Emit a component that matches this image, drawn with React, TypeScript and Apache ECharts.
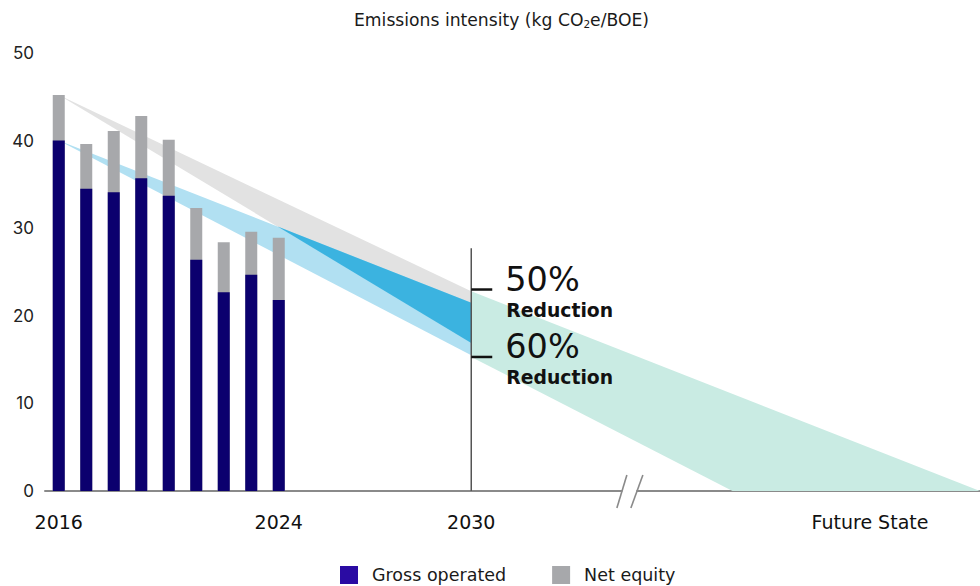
import React, { useEffect, useRef } from "react";
import * as echarts from "echarts";

// Reported years and their emissions intensity (kg CO2e/BOE)
const YEARS = ["2016", "2017", "2018", "2019", "2020", "2021", "2022", "2023", "2024"];
const GROSS_OPERATED = [40.0, 34.5, 34.1, 35.7, 33.7, 26.4, 22.7, 24.7, 21.8];
const NET_EQUITY = [45.2, 39.6, 41.1, 42.8, 40.1, 32.3, 28.4, 29.6, 28.9];

// Slots on the broken time axis: one slot per reported year, then 2030 and the future state
const YEAR_SLOTS = YEARS.map((_, i) => i);
const TARGET_SLOT = 15;
const FUTURE_SLOT = 29.5;
const AXIS_MIN = -0.5;
const AXIS_MAX = 33.5;
const BREAK_SLOT = 20.75;
const TICK_SLOTS = [0, 8, TARGET_SLOT, FUTURE_SLOT];
const TICK_LABELS = ["2016", "2024", "2030", "Future State"];

// 2030 pathway ranges (start value, upper and lower end at 2030)
const NET_PATH = [45.2, 22.8, 16.9];
const GROSS_PATH = [40.0, 21.5, 15.5];

// 2030 reduction targets
const TARGET_NAMES = ["50%", "60%"];
const TARGET_VALUES = [23.0, 15.3];
const TARGET_LINE_TOP = 27.7;

// Trajectory beyond 2030: slots where the upper and lower edges reach zero
const FUTURE_ZERO_UPPER = 33.5;
const FUTURE_ZERO_LOWER = 24.5;

const FONT = "'DejaVu Sans', 'Noto Sans', sans-serif";
const NUM_FONT = "Inter, 'Noto Sans', sans-serif";

function polygonSeries(name: string, points: number[][], color: string, z: number) {
  const flat = points.flat();
  const xs = flat.map((_, i) => i).filter((i) => i % 2 === 0);
  const ys = flat.map((_, i) => i).filter((i) => i % 2 === 1);
  return {
    type: "custom",
    name,
    z,
    silent: true,
    data: [flat],
    encode: { x: xs, y: ys },
    renderItem: (_p: any, api: any) => {
      const pts: number[][] = [];
      for (let i = 0; i < points.length; i++) {
        pts.push(api.coord([api.value(2 * i), api.value(2 * i + 1)]));
      }
      return { type: "polygon", shape: { points: pts }, style: { fill: color } };
    },
  };
}

// Where the lower edge of the net pathway crosses the upper edge of the gross pathway
function crossing(): number[] {
  const a0 = NET_PATH[0], a1 = NET_PATH[2];
  const b0 = GROSS_PATH[0], b1 = GROSS_PATH[1];
  const t = (a0 - b0) / (a0 - a1 - (b0 - b1));
  return [t * TARGET_SLOT, a0 + (a1 - a0) * t];
}

export default function App() {
  const ref = useRef<HTMLDivElement>(null);

  useEffect(() => {
    if (!ref.current) return;
    const chart = echarts.init(ref.current, null, { renderer: "svg" });
    const cross = crossing();

    const option: any = {
      animation: false,
      backgroundColor: "#ffffff",
      title: {
        text: "{a|Emissions intensity (kg CO}{s|2}{a|e/BOE)}",
        left: 354,
        top: 10,
        padding: 0,
        textStyle: {
          fontWeight: "normal",
          rich: {
            a: { fontFamily: FONT, fontSize: 17.2, fontWeight: "normal", color: "#1a1a1a", lineHeight: 20 },
            s: { fontFamily: FONT, fontSize: 10.5, fontWeight: "normal", color: "#1a1a1a", lineHeight: 20, padding: [7, 0, 0, 0] },
          },
        },
      },
      legend: {
        left: 340,
        top: 566,
        padding: 0,
        itemWidth: 18,
        itemHeight: 18,
        itemGap: 46,
        icon: "rect",
        data: [
          { name: "Gross operated", itemStyle: { color: "#2a0ba3" } },
          { name: "Net equity", itemStyle: { color: "#a7a8ab" } },
        ],
        textStyle: { fontFamily: FONT, fontSize: 17.5, color: "#1a1a1a", padding: [0, 0, 0, 9] },
        selectedMode: false,
      },
      grid: { left: 45, right: 0, top: 53, bottom: 95, containLabel: false },
      xAxis: {
        type: "value",
        min: AXIS_MIN,
        max: AXIS_MAX,
        splitLine: { show: false },
        axisTick: { show: false },
        axisLine: { show: true, lineStyle: { color: "#8a8a8a", width: 2 } },
        axisLabel: {
          customValues: TICK_SLOTS,
          formatter: (v: number) => {
            const i = TICK_SLOTS.indexOf(v);
            return i >= 0 ? TICK_LABELS[i] : "";
          },
          margin: 21,
          fontFamily: FONT,
          fontSize: 19,
          color: "#111111",
        },
      },
      yAxis: {
        type: "value",
        min: 0,
        max: 50,
        interval: 10,
        splitLine: { show: false },
        axisLine: { show: false },
        axisTick: { show: false },
        axisLabel: { margin: 11, fontFamily: NUM_FONT, fontSize: 17, color: "#222222" },
      },
      series: [
        polygonSeries(
          "net pathway",
          [[0, NET_PATH[0]], [TARGET_SLOT, NET_PATH[1]], [TARGET_SLOT, NET_PATH[2]]],
          "#e2e2e2",
          1
        ),
        polygonSeries(
          "gross pathway",
          [[0, GROSS_PATH[0]], [TARGET_SLOT, GROSS_PATH[1]], [TARGET_SLOT, GROSS_PATH[2]]],
          "#b1e0f2",
          2
        ),
        polygonSeries(
          "overlap",
          [cross, [TARGET_SLOT, GROSS_PATH[1]], [TARGET_SLOT, NET_PATH[2]]],
          "#3bb3e0",
          3
        ),
        polygonSeries(
          "future",
          [
            [TARGET_SLOT, NET_PATH[1]],
            [FUTURE_ZERO_UPPER, 0],
            [FUTURE_ZERO_LOWER, 0],
            [TARGET_SLOT, TARGET_VALUES[1]],
          ],
          "#c9ebe3",
          1
        ),
        {
          type: "bar",
          name: "Net equity",
          z: 5,
          barWidth: 12,
          barGap: "-100%",
          itemStyle: { color: "#a7a8ab" },
          data: YEAR_SLOTS.map((s, i) => [s, NET_EQUITY[i]]),
        },
        {
          type: "bar",
          name: "Gross operated",
          z: 6,
          barWidth: 12,
          barGap: "-100%",
          itemStyle: { color: "#0b006e" },
          data: YEAR_SLOTS.map((s, i) => [s, GROSS_OPERATED[i]]),
        },
        // 2030 marker line
        {
          type: "custom",
          name: "target line",
          z: 7,
          silent: true,
          data: [[TARGET_SLOT, 0, TARGET_LINE_TOP]],
          encode: { x: 0, y: [1, 2] },
          renderItem: (_p: any, api: any) => {
            const a = api.coord([api.value(0), api.value(1)]);
            const b = api.coord([api.value(0), api.value(2)]);
            return {
              type: "line",
              shape: { x1: a[0], y1: a[1], x2: b[0], y2: b[1] },
              style: { stroke: "#555555", lineWidth: 1.5 },
            };
          },
        },
        // Reduction targets: tick, percentage and caption
        {
          type: "custom",
          name: "targets",
          z: 8,
          silent: true,
          data: TARGET_VALUES.map((v) => [TARGET_SLOT, v]),
          encode: { x: 0, y: 1 },
          renderItem: (p: any, api: any) => {
            const c = api.coord([api.value(0), api.value(1)]);
            return {
              type: "group",
              children: [
                {
                  type: "line",
                  shape: { x1: c[0], y1: c[1], x2: c[0] + 21, y2: c[1] },
                  style: { stroke: "#111111", lineWidth: 2.5 },
                },
                {
                  type: "text",
                  x: c[0] + 34,
                  y: c[1] - 10,
                  style: {
                    text: TARGET_NAMES[p.dataIndex],
                    fontFamily: FONT,
                    fontSize: 33.5,
                    fontWeight: 400,
                    lineHeight: 26,
                    fill: "#111111",
                    align: "left",
                    verticalAlign: "middle",
                  },
                },
                {
                  type: "text",
                  x: c[0] + 35,
                  y: c[1] + 20.5,
                  style: {
                    text: "Reduction",
                    fontFamily: FONT,
                    fontSize: 18.8,
                    fontWeight: 700,
                    lineHeight: 16,
                    fill: "#111111",
                    align: "left",
                    verticalAlign: "middle",
                  },
                },
              ],
            };
          },
        },
        // Axis break
        {
          type: "custom",
          name: "axis break",
          z: 9,
          silent: true,
          data: [[BREAK_SLOT, 0]],
          encode: { x: 0, y: 1 },
          renderItem: (_p: any, api: any) => {
            const c = api.coord([api.value(0), api.value(1)]);
            const stroke = { stroke: "#8a8a8a", lineWidth: 1.6 };
            return {
              type: "group",
              children: [
                { type: "rect", shape: { x: c[0] - 7, y: c[1] - 3, width: 14, height: 6 }, style: { fill: "#ffffff" } },
                { type: "line", shape: { x1: c[0] - 12.5, y1: c[1] + 17, x2: c[0] - 2.5, y2: c[1] - 16 }, style: stroke },
                { type: "line", shape: { x1: c[0] + 1.5, y1: c[1] + 17, x2: c[0] + 13.5, y2: c[1] - 16 }, style: stroke },
              ],
            };
          },
        },
      ],
    };

    chart.setOption(option);
    return () => chart.dispose();
  }, []);

  return <div ref={ref} style={{ width: 980, height: 586, position: "absolute", left: 0, top: 0 }} />;
}
